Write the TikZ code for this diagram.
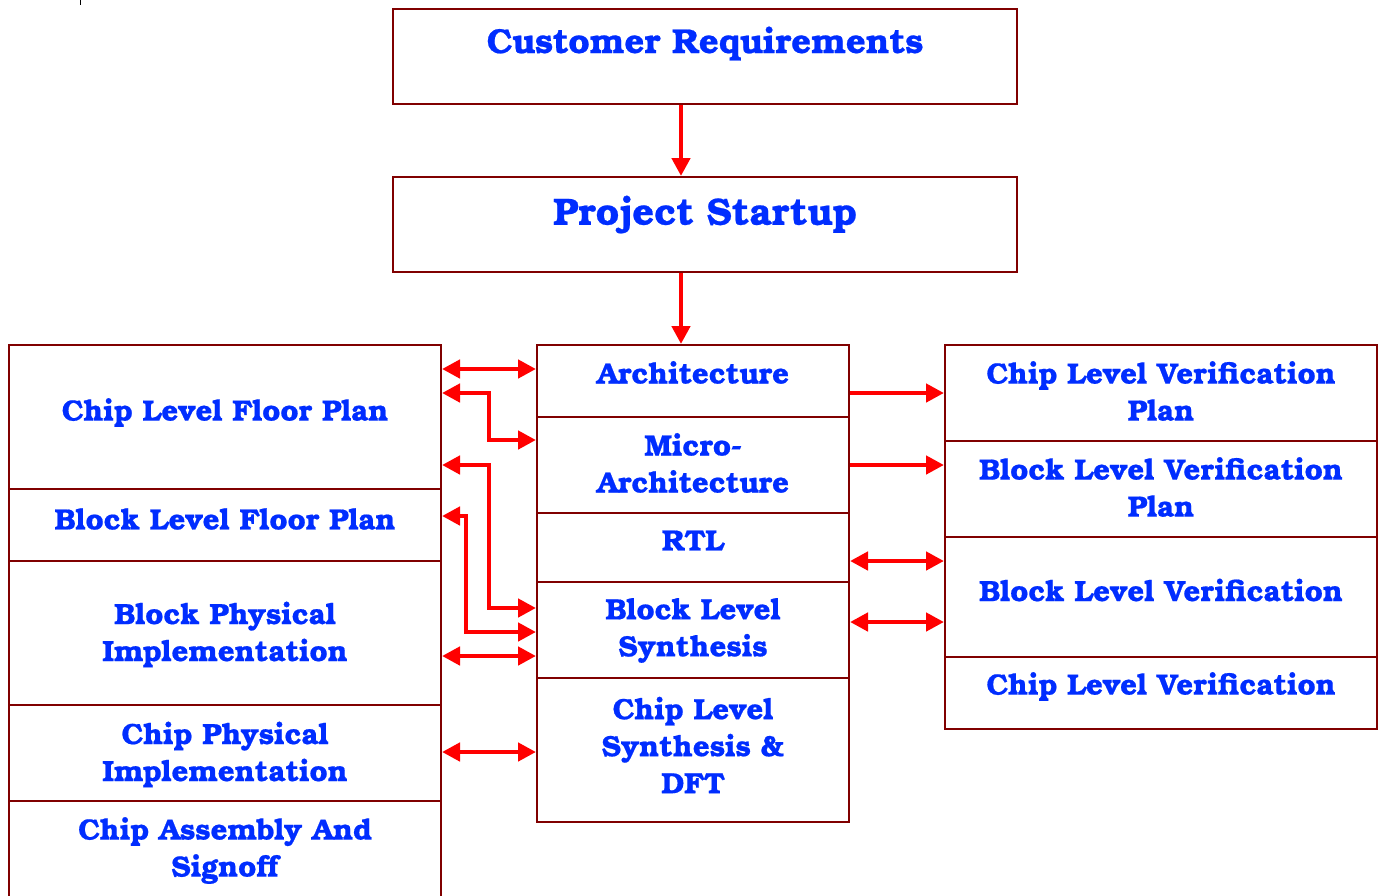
\documentclass[tikz,border=0pt]{standalone}
\usepackage{fontspec}
\setmainfont{texgyrebonum-bold.otf}[FakeBold=0.6]
\usetikzlibrary{arrows.meta}
\definecolor{boxred}{RGB}{128,0,0}
\definecolor{arrred}{RGB}{255,0,0}
\definecolor{txtblue}{RGB}{0,45,255}
\begin{document}
\begin{tikzpicture}[x=1pt,y=-1pt,
  box/.style={draw=boxred, line width=2pt, rectangle, inner sep=0pt, minimum width=#1},
  lbox/.style={box=432pt},
  mbox/.style={box=312pt},
  txt/.style={text=txtblue, align=center, font=\fontsize{29.3}{37}\selectfont, inner sep=0pt},
  arr/.style={draw=arrred, line width=4.5pt, -{Triangle[length=18pt,width=18pt]}},
  darr/.style={draw=arrred, line width=4.5pt, {Triangle[length=18pt,width=18pt]}-{Triangle[length=18pt,width=18pt]}},
]
\useasboundingbox (0,0) rectangle (1382,895);
\draw[line width=1.5pt] (80.5,0) -- (80.5,5);

% top boxes
\node[box=624pt, minimum height=95pt, label={[txt,font=\fontsize{34.6}{37}\selectfont,yshift=13pt]center:Customer Requirements}] (cr) at (705,56.5) {};
\node[box=624pt, minimum height=95pt, label={[txt,font=\fontsize{38}{37}\selectfont,yshift=10pt]center:Project Startup}] (ps) at (705,224.5) {};

% left column
\node[lbox, minimum height=144pt, label={[txt,yshift=4.5pt]center:Chip Level Floor Plan}] (cfp) at (225,417) {};
\node[lbox, minimum height=72pt, label={[txt,yshift=6pt]center:Block Level Floor Plan}] (bfp) at (225,525) {};
\node[lbox, minimum height=144pt, label={[txt,yshift=-1.5pt]center:{Block Physical\\Implementation}}] (bpi) at (225,633) {};
\node[lbox, minimum height=96pt, label={[txt,yshift=-1.5pt]center:{Chip Physical\\Implementation}}] (cpi) at (225,753) {};
\node[lbox, minimum height=96pt, label={[txt,yshift=-1.5pt]center:{Chip Assembly And\\Signoff}}] (cas) at (225,849) {};

% middle column
\node[mbox, minimum height=72pt, label={[txt,yshift=8.5pt]center:Architecture}] (arch) at (693,381) {};
\node[mbox, minimum height=96pt, label={[txt,yshift=2pt]center:{Micro-\\Architecture}}] (ma) at (693,465) {};
\node[mbox, minimum height=69pt, label={[txt,yshift=7pt]center:RTL}] (rtl) at (693,547.5) {};
\node[mbox, minimum height=96pt, label={[txt,yshift=-0.5pt]center:{Block Level\\Synthesis}}] (bls) at (693,630) {};
\node[mbox, minimum height=144pt, label={[txt,yshift=5pt]center:{Chip Level\\Synthesis \&\\DFT}}] (cls) at (693,750) {};

% right column
\node[lbox, minimum height=96pt, label={[txt,yshift=2pt]center:{Chip Level Verification\\Plan}}] (clvp) at (1161,393) {};
\node[lbox, minimum height=96pt, label={[txt,yshift=2pt]center:{Block Level Verification\\Plan}}] (blvp) at (1161,489) {};
\node[lbox, minimum height=120pt, label={[txt,yshift=7pt]center:Block Level Verification}] (blv) at (1161,597) {};
\node[lbox, minimum height=72pt, label={[txt,yshift=6.5pt]center:Chip Level Verification}] (clv) at (1161,693) {};

% helper coordinates
\coordinate (x681) at (681,0);
\coordinate (x489) at (489,0);
\coordinate (x466) at (466,0);
\foreach \yy in {369,393,440,465,516,561,608,622,632,656,752}
  \coordinate (y\yy) at (0,\yy);

% connectors
\draw[arr] (cr.south -| x681) -- (ps.north -| x681);
\draw[arr] (ps.south -| x681) -- (arch.north -| x681);

\draw[darr] (cfp.east |- y369) -- (arch.west |- y369);
\draw[darr] (cfp.east |- y393) -| (x489 |- y440) -- (ma.west |- y440);
\draw[darr] (cfp.east |- y465) -| (x489 |- y608) -- (bls.west |- y608);
\draw[darr] (bfp.east |- y516) -| (x466 |- y632) -- (bls.west |- y632);
\draw[darr] (bpi.east |- y656) -- (bls.west |- y656);
\draw[darr] (cpi.east |- y752) -- (cls.west |- y752);

\draw[arr] (arch.east |- y393) -- (clvp.west |- y393);
\draw[arr] (ma.east |- y465) -- (blvp.west |- y465);
\draw[darr] (rtl.east |- y561) -- (blv.west |- y561);
\draw[darr] (bls.east |- y622) -- (blv.west |- y622);
\end{tikzpicture}
\end{document}
